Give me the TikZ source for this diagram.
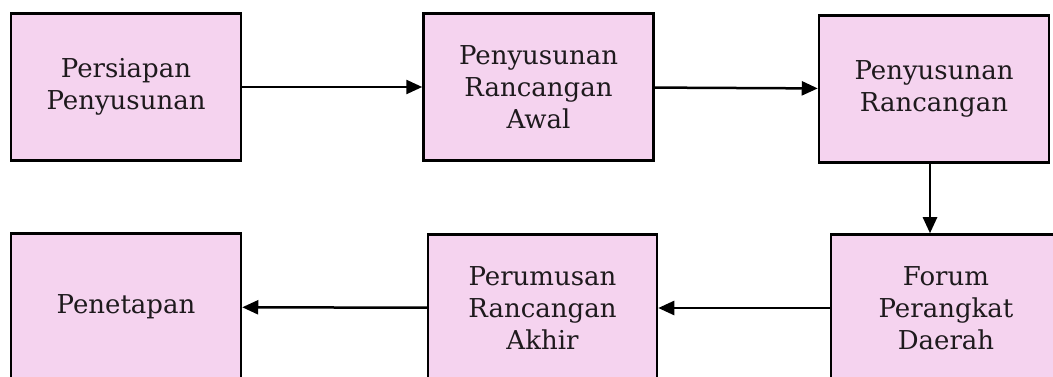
\documentclass[tikz,border=0pt]{standalone}
\usepackage{fontspec}
\setmainfont{DejaVu Serif}
\usetikzlibrary{arrows.meta}
\definecolor{boxpink}{HTML}{F5D3EF}
\definecolor{inkc}{HTML}{1E1A1D}
\begin{document}
\begin{tikzpicture}[x=1pt,y=-1pt,
  stagebox/.style={draw=black,line width=2.5pt,fill=boxpink,text=inkc,align=center,
    minimum width=230pt,minimum height=147pt,inner sep=0pt,
    font=\fontsize{26}{32}\selectfont},
  flow/.style={line width=2.5pt,-{Triangle[length=16pt,width=14pt]}}]
\useasboundingbox (0,0) rectangle (1053,377);
\clip (0,0) rectangle (1053,377);
\node[stagebox] (a) at (126,87) {Persiapan\\Penyusunan};
\node[stagebox] (b) at (538.5,87) {Penyusunan\\Rancangan\\Awal};
\node[stagebox] (c) at (934,89) {Penyusunan\\Rancangan};
\node[stagebox] (d) at (946,308) {Forum\\Perangkat\\Daerah};
\node[stagebox,minimum width=229pt] (e) at (542.5,308) {Perumusan\\Rancangan\\Akhir};
\node[stagebox] (f) at (126,307) {Penetapan};
\draw[flow] (a) -- (b);
\draw[flow] (b) -- (c);
\draw[flow] ([xshift=-4pt]c.south) -- ([xshift=-4pt]c.south |- d.north);
\draw[flow] (d) -- (e);
\draw[flow] (e) -- (f);
\end{tikzpicture}
\end{document}
